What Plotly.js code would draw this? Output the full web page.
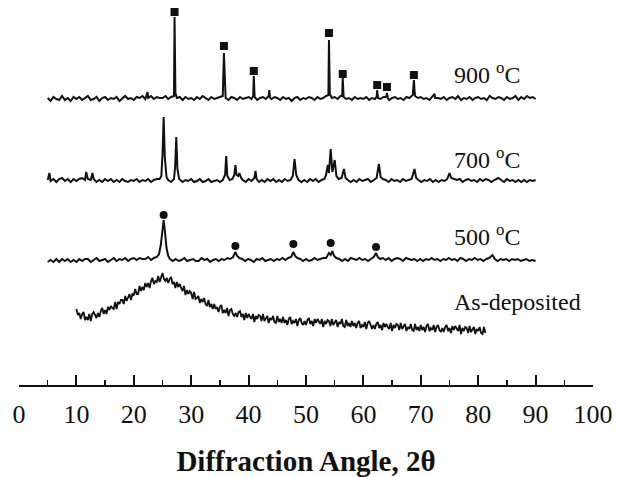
<!DOCTYPE html>
<html>
<head>
<meta charset="utf-8">
<script src="https://cdn.plot.ly/plotly-3.0.1.min.js"></script>
<style>html,body{margin:0;padding:0;background:#fff;}#chart{width:626px;height:477px;}</style>
</head>
<body>
<div id="chart"></div>
<script>
// ---- Data (2θ in degrees, intensity in arbitrary units relative to each pattern's baseline) ----
const x900 = [5,5.5,6,6.5,7,7.5,8,8.5,9,9.5,
10,10.5,11,11.5,12,12.5,13,13.5,14,14.5,
15,15.5,16,16.5,17,17.5,18,18.5,19,19.5,
20,20.5,21,21.5,22,22.4,22.5,23,23.5,24,24.5,
25,25.5,26,26.5,27,27.1,27.25,27.5,28,28.5,29,29.5,
30,30.5,31,31.5,32,32.5,33,33.5,34,34.5,
35,35.5,35.7,35.9,36,36.5,37,37.5,38,38.5,39,39.5,
40,40.5,40.8,40.9,41.05,41.5,42,42.5,43,43.5,43.6,43.75,44,44.5,
45,45.5,46,46.5,47,47.5,48,48.5,49,49.5,
50,50.5,51,51.5,52,52.5,53,53.5,53.9,54,54.15,54.5,
55,55.5,56,56.3,56.4,56.55,57,57.5,58,58.5,59,59.5,
60,60.5,61,61.5,62,62.3,62.4,62.55,63,63.5,64,64.1,64.25,64.5,
65,65.5,66,66.5,67,67.5,68,68.6,68.8,68.95,69,69.5,
70,70.5,71,71.5,72,72.4,72.5,73,73.5,74,74.5,
75,75.5,76,76.5,77,77.5,78,78.5,79,79.5,
80,80.5,81,81.5,82,82.5,83,83.5,84,84.5,
85,85.5,86,86.5,87,87.5,88,88.5,89,89.5,90];
const y900 = [1,-2,2,0,-1,3,-1,1,-2,2,
0,2,-1,1,3,-1,0,2,-2,1,
2,-1,1,0,2,-2,1,3,0,1,
-1,2,1,3,0,7,1,3,0,2,1,
1,3,0,2,3,82,6,1,2,-1,2,0,
1,-1,2,0,3,1,-1,2,0,1,
2,3,46,4,1,-1,2,1,-1,2,0,1,
2,0,3,23,2,-1,1,2,0,3,9,1,0,2,
1,-1,2,0,1,-2,1,2,-1,1,
0,2,1,-1,2,0,1,3,4,59,5,1,
2,0,3,3,21,2,0,1,-1,2,0,1,
0,2,-1,1,0,2,9,1,0,2,2,6,1,-1,
1,2,0,1,-1,2,1,4,19,5,3,1,
2,0,1,-1,2,5,1,1,0,2,-1,
1,2,0,3,-1,1,0,2,-1,1,
2,0,1,-1,3,1,0,2,1,-1,
2,0,1,3,-1,2,0,3,1,2,0];

const x700 = [5,5.3,5.5,6,6.5,7,7.5,8,8.5,9,9.5,
10,10.5,11,11.5,11.7,12,12.5,12.8,13,13.5,14,14.5,
15,15.5,16,16.5,17,17.5,18,18.5,19,19.5,
20,20.5,21,21.5,22,22.5,23,23.5,24,24.5,
24.8,25.0,25.2,25.4,25.7,26,26.5,27,27.2,27.4,27.6,27.9,28.5,29,29.5,
30,30.5,31,31.5,32,32.5,33,33.5,34,34.5,
35,35.5,35.9,36.1,36.3,36.7,37.2,37.5,37.7,37.9,38.2,38.4,38.7,39,39.5,
40,40.5,41.0,41.2,41.4,41.8,42.3,42.8,43.3,43.8,44.3,44.8,
45.3,45.8,46.3,46.8,47.3,47.7,48.0,48.3,48.7,49.2,49.7,
50.2,50.7,51.2,51.7,52.2,52.7,53.2,53.5,53.8,54.0,54.3,54.6,55.0,55.3,55.7,56.2,56.6,56.9,57.3,57.8,
58.3,58.8,59.3,59.8,60.3,60.8,61.3,61.8,62.3,62.7,63.0,63.4,63.9,64.4,64.9,
65.4,65.9,66.4,66.9,67.4,67.9,68.4,68.9,69.2,69.6,70.1,70.6,
71.1,71.6,72.1,72.6,73.1,73.6,74.1,74.6,75.0,75.3,75.8,76.3,
76.8,77.3,77.8,78.3,78.8,79.3,79.8,80.3,80.8,81.3,81.8,82.3,
82.8,83.5,84.0,84.5,85,85.5,86,86.5,87,87.5,88,88.5,89,89.5,90];
const y700 = [1,8,0,2,-1,2,3,0,2,-1,2,
0,2,3,1,9,2,1,8,2,-1,1,-1,
2,0,2,-1,1,-1,2,0,-1,1,
0,2,-1,1,0,2,-1,1,2,2,
5,26,64,24,4,1,-1,2,14,44,12,2,-1,1,0,
2,-1,0,2,-1,0,2,-1,0,1,
-1,1,6,25,5,1,2,6,16,6,5,8,3,1,-1,
2,0,3,10,2,-1,1,-1,2,0,2,-1,
1,-1,2,0,1,5,22,6,1,-1,1,
-1,2,0,2,-1,1,2,6,16,8,32,9,21,5,2,3,12,3,1,-1,
1,-1,2,0,1,2,-1,1,3,17,4,2,1,-1,2,
0,1,-1,2,0,1,2,12,3,1,-1,1,
0,2,-1,1,-1,1,0,2,8,3,2,1,
2,-1,1,2,0,1,-1,2,0,2,1,-1,
1,3,1,-1,2,0,1,-1,1,-1,1,-1,1,0,1];

const x500 = [5,5.5,6,6.5,7,7.5,8,8.5,9,9.5,
10,10.5,11,11.5,12,12.5,13,13.5,14,14.5,
15,15.5,16,16.5,17,17.5,18,18.5,19,19.5,
20,20.5,21,21.5,22,22.5,23,23.5,24,24.4,
24.7,25.0,25.2,25.4,25.7,26.0,26.3,26.8,27.3,27.8,28.3,28.8,29.3,29.8,
30.3,30.8,31.3,31.8,32.3,32.8,33.3,33.8,34.3,34.8,
35.3,35.8,36.3,36.8,37.3,37.7,38.0,38.4,38.9,39.4,39.9,
40.4,40.9,41.4,41.9,42.4,42.9,43.4,43.9,44.4,44.9,
45.4,45.9,46.4,46.9,47.4,47.8,48.1,48.5,49.0,49.5,50.0,
50.5,51.0,51.5,52.0,52.5,53.0,53.5,54.0,54.3,54.6,54.9,55.3,55.8,56.3,
56.8,57.3,57.8,58.3,58.8,59.3,59.8,60.3,60.8,61.3,61.8,62.2,62.5,62.9,
63.4,63.9,64.4,64.9,65.4,65.9,66.4,66.9,67.4,67.9,68.4,
68.9,69.4,69.9,70.4,70.9,71.4,71.9,72.4,72.9,73.4,73.9,
74.4,74.9,75.4,75.9,76.4,76.9,77.4,77.9,78.4,78.9,79.4,
79.9,80.4,80.9,81.4,81.9,82.5,82.9,83.4,83.9,84.4,84.9,
85.4,85.9,86.4,86.9,87.4,87.9,88.4,88.9,89.4,90];
const y500 = [-2,0,-2,1,-2,1,-1,1,-2,0,
-2,1,-1,1,1,-2,0,2,-1,0,
1,-2,0,2,-1,1,0,2,-1,1,
2,0,2,1,1,3,0,2,3,6,
15,32,40,30,12,4,1,-1,1,-1,0,2,-1,0,
1,-1,-1,2,0,1,-2,0,1,-1,
1,0,2,1,3,8,4,2,1,-1,1,
0,-2,1,0,2,-1,0,1,-1,1,
0,2,0,2,3,8,4,2,1,-1,1,
-1,0,2,0,1,2,2,7,5,9,4,2,1,-1,
1,-1,2,1,0,2,0,1,-1,1,3,7,3,1,
2,0,2,-1,1,2,1,-1,2,1,0,
1,-1,1,-1,1,0,2,0,1,-1,1,
0,2,0,1,-1,2,1,-1,1,0,2,
0,1,-1,1,2,5,1,-1,1,0,1,
-1,1,0,1,-1,0,1,-1,0,-1];

const xAsDep = [10,10.25,10.5,10.75, 11,11.25,11.5,11.75, 12,12.25,12.5,12.75, 13,13.25,13.5,13.75,
14,14.25,14.5,14.75, 15,15.25,15.5,15.75, 16,16.25,16.5,16.75, 17,17.25,17.5,17.75,
18,18.25,18.5,18.75, 19,19.25,19.5,19.75, 20,20.25,20.5,20.75, 21,21.25,21.5,21.75,
22,22.25,22.5,22.75, 23,23.25,23.5,23.75, 24,24.25,24.5,24.75, 25,25.25,25.5,25.75,
26,26.25,26.5,26.75, 27,27.25,27.5,27.75, 28,28.25,28.5,28.75, 29,29.25,29.5,29.75,
30,30.25,30.5,30.75, 31,31.25,31.5,31.75, 32,32.25,32.5,32.75, 33,33.25,33.5,33.75,
34,34.25,34.5,34.75, 35,35.25,35.5,35.75, 36,36.25,36.5,36.75, 37,37.25,37.5,37.75,
38,38.25,38.5,38.75, 39,39.25,39.5,39.75, 40,40.25,40.5,40.75, 41,41.25,41.5,41.75,
42,42.25,42.5,42.75, 43,43.25,43.5,43.75, 44,44.25,44.5,44.75, 45,45.25,45.5,45.75,
46,46.25,46.5,46.75, 47,47.25,47.5,47.75, 48,48.25,48.5,48.75, 49,49.25,49.5,49.75,
50,50.25,50.5,50.75, 51,51.25,51.5,51.75, 52,52.25,52.5,52.75, 53,53.25,53.5,53.75,
54,54.25,54.5,54.75, 55,55.25,55.5,55.75, 56,56.25,56.5,56.75, 57,57.25,57.5,57.75,
58,58.25,58.5,58.75, 59,59.25,59.5,59.75, 60,60.25,60.5,60.75, 61,61.25,61.5,61.75,
62,62.25,62.5,62.75, 63,63.25,63.5,63.75, 64,64.25,64.5,64.75, 65,65.25,65.5,65.75,
66,66.25,66.5,66.75, 67,67.25,67.5,67.75, 68,68.25,68.5,68.75, 69,69.25,69.5,69.75,
70,70.25,70.5,70.75, 71,71.25,71.5,71.75, 72,72.25,72.5,72.75, 73,73.25,73.5,73.75,
74,74.25,74.5,74.75, 75,75.25,75.5,75.75, 76,76.25,76.5,76.75, 77,77.25,77.5,77.75,
78,78.25,78.5,78.75, 79,79.25,79.5,79.75, 80,80.25,80.5,80.75, 81,81.25];
const yAsDep = [76,70,72,66, 71,73,65,68, 65,71,64,71, 73,69,67,72,
68,74,77,71, 75,71,78,75, 79,77,76,83, 76,83,81,85,
85,81,89,84, 87,91,85,91, 90,96,91,91, 99,94,98,95,
102,98,102,97, 104,107,101,104, 103,109,103,109, 112,106,104,107,
102,106,108,101, 103,97,103,98, 101,97,94,99, 90,95,91,94,
92,86,93,86, 87,89,82,86, 83,87,81,79, 85,78,81,76,
81,76,78,73, 78,80,72,75, 72,77,69,75, 76,71,69,72,
68,73,74,68, 71,65,72,67, 71,68,66,71, 63,69,66,70,
69,64,71,64, 66,69,62,67, 65,69,63,62, 69,63,66,62,
68,62,65,60, 66,68,61,64, 62,66,59,65, 67,62,60,64,
60,65,67,61, 64,59,66,62, 66,63,61,66, 58,64,61,65,
64,59,66,60, 62,65,58,63, 61,66,59,58, 65,59,62,58,
64,59,62,57, 62,64,57,60, 58,63,56,62, 64,59,56,60,
56,61,63,57, 60,55,62,58, 61,58,56,62, 54,60,57,61,
60,55,62,56, 58,61,54,58, 56,61,55,54, 61,55,58,54,
60,55,58,53, 59,61,54,57, 55,60,53,58, 60,55,53,57,
53,58,60,54, 57,52,59,55, 59,56,54,60, 51,57,54,58,
57,52,59,53, 55,58,51,56, 54,58,52,51, 58,52];

// vertical offsets used to stack the patterns
const offset900 = 286, offset700 = 204, offset500 = 125, offsetAsDep = 0;

// phase markers (■ above 900 °C peaks, ● above 500 °C peaks)
const sqX = [27.1, 35.7, 40.9, 54.0, 56.4, 62.4, 64.1, 68.8];
const sqY = [87, 53, 28, 66, 25, 14, 12, 24];
const ciX = [25.2, 37.7, 47.8, 54.3, 62.2];
const ciY = [45, 14, 16, 17, 13];

// pattern labels
const labelText = ['900 <sup>o</sup>C', '700 <sup>o</sup>C', '500 <sup>o</sup>C', 'As-deposited'];
const labelX = [75.4, 75.4, 75.4, 75.4];
const labelY = [312, 227, 150, 83];

const tickVals = [0,10,20,30,40,50,60,70,80,90,100];
const tickText = ['0','10','20','30','40','50','60','70','80','90','100'];

// ---- Build ----
const serif = 'Liberation Serif, Times New Roman, serif';
const lineStyle = {color: '#111', width: 2};
const shift = (arr, off) => arr.map(v => v + off);

const traces = [
  {x: x900, y: shift(y900, offset900), mode: 'lines', line: lineStyle, hoverinfo: 'skip'},
  {x: x700, y: shift(y700, offset700), mode: 'lines', line: lineStyle, hoverinfo: 'skip'},
  {x: x500, y: shift(y500, offset500), mode: 'lines', line: lineStyle, hoverinfo: 'skip'},
  {x: xAsDep, y: shift(yAsDep, offsetAsDep), mode: 'lines', line: {color: '#111', width: 1.8}, hoverinfo: 'skip'},
  {x: sqX, y: shift(sqY, offset900), mode: 'markers', marker: {symbol: 'square', size: 8, color: '#111'}, hoverinfo: 'skip'},
  {x: ciX, y: shift(ciY, offset500), mode: 'markers', marker: {symbol: 'circle', size: 8, color: '#111'}, hoverinfo: 'skip'}
];

const annotations = labelText.map((t, i) => ({
  x: labelX[i], y: labelY[i], xref: 'x', yref: 'y', text: t, showarrow: false,
  xanchor: 'left', yanchor: 'middle', font: {family: serif, size: 24, color: '#111'}
}));

const layout = {
  width: 626, height: 477,
  margin: {l: 19, r: 33, t: 0, b: 92},
  paper_bgcolor: '#fff', plot_bgcolor: '#fff',
  showlegend: false,
  xaxis: {
    range: [0, 100], showgrid: false, zeroline: false,
    showline: true, linecolor: '#111', linewidth: 2,
    ticks: 'inside', ticklen: 10, tickwidth: 2, tickcolor: '#111',
    tickvals: tickVals, ticktext: tickText, ticklabelstandoff: 5,
    minor: {dtick: 5, tick0: 0, ticks: 'inside', ticklen: 5, tickwidth: 1.5, tickcolor: '#111', showgrid: false},
    tickfont: {family: serif, size: 26, color: '#111'},
    title: {text: 'Diffraction Angle, 2θ', font: {family: serif, size: 29, color: '#111', weight: 'bold'}, standoff: 24}
  },
  yaxis: {range: [0, 385], visible: false, fixedrange: true},
  annotations: annotations
};

Plotly.newPlot('chart', traces, layout, {staticPlot: true, displayModeBar: false});
</script>
</body>
</html>
